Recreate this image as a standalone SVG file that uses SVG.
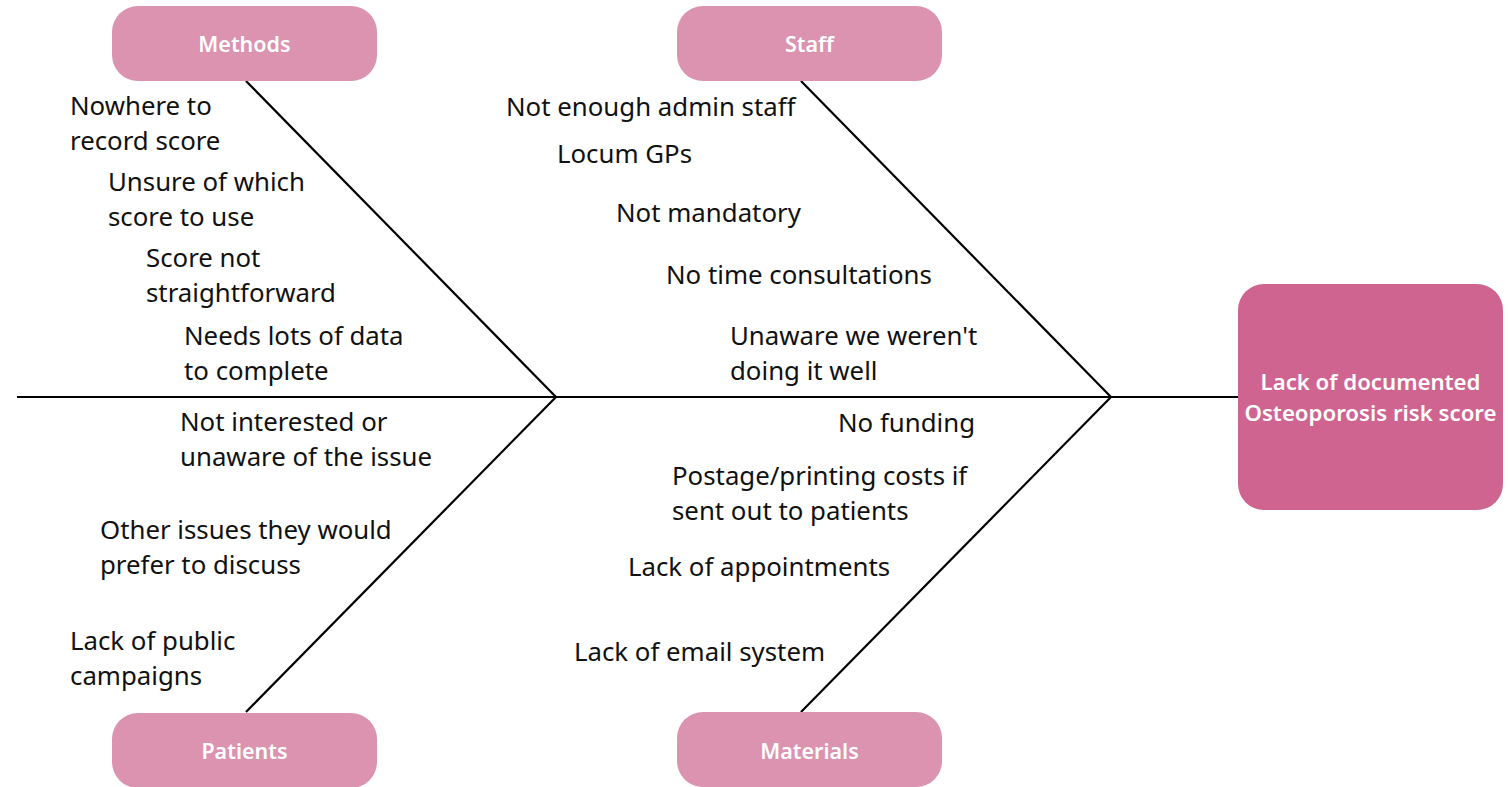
<svg xmlns="http://www.w3.org/2000/svg" width="1508" height="787" viewBox="0 0 1508 787">
<style>
.cat{fill:#DB93B0}
.eff{fill:#CF6490}
.ct{font-family:"Noto Sans","Open Sans",sans-serif;font-size:21.5px;font-weight:600;fill:#fff;text-anchor:middle}
.et{font-family:"Noto Sans","Open Sans",sans-serif;font-size:22.2px;font-weight:600;fill:#fff;text-anchor:middle}
.lb{font-family:"Noto Sans","Open Sans",sans-serif;font-size:25.8px;fill:#111}
.ln{stroke:#000;stroke-width:2.2;fill:none}
</style>
<rect width="1508" height="787" fill="#fff"/>
<g id="connectors">
<line class="ln" x1="17" y1="397" x2="1238" y2="397"/>
<line class="ln" x1="246" y1="81" x2="556" y2="397"/>
<line class="ln" x1="246" y1="712" x2="556" y2="397"/>
<line class="ln" x1="801" y1="81" x2="1111" y2="397"/>
<line class="ln" x1="801" y1="712" x2="1111" y2="397"/>
</g>
<g id="methods"><rect class="cat" x="112" y="6" width="265" height="75" rx="26"/><text class="ct" x="244.5" y="52">Methods</text></g>
<g id="staff"><rect class="cat" x="677" y="6" width="265" height="75" rx="26"/><text class="ct" x="809.5" y="52">Staff</text></g>
<g id="patients"><rect class="cat" x="112" y="713" width="265" height="75" rx="26"/><text class="ct" x="244.5" y="759">Patients</text></g>
<g id="materials"><rect class="cat" x="677" y="712" width="265" height="75" rx="26"/><text class="ct" x="809.5" y="759">Materials</text></g>
<g id="effect"><rect class="eff" x="1238" y="284" width="265" height="226" rx="26"/><text class="et" x="1370.5" y="390">Lack of documented</text><text class="et" x="1370.5" y="421">Osteoporosis risk score</text></g>
<g id="labels">
<text class="lb" x="70" y="115">Nowhere to</text><text class="lb" x="70" y="150">record score</text>
<text class="lb" x="108" y="191">Unsure of which</text><text class="lb" x="108" y="226">score to use</text>
<text class="lb" x="146" y="267">Score not</text><text class="lb" x="146" y="302">straightforward</text>
<text class="lb" x="184" y="345">Needs lots of data</text><text class="lb" x="184" y="380">to complete</text>
<text class="lb" x="180" y="431">Not interested or</text><text class="lb" x="180" y="466">unaware of the issue</text>
<text class="lb" x="100" y="539">Other issues they would</text><text class="lb" x="100" y="574">prefer to discuss</text>
<text class="lb" x="70" y="650">Lack of public</text><text class="lb" x="70" y="685">campaigns</text>
<text class="lb" x="506" y="116">Not enough admin staff</text>
<text class="lb" x="557" y="163">Locum GPs</text>
<text class="lb" x="616" y="222">Not mandatory</text>
<text class="lb" x="666" y="284">No time consultations</text>
<text class="lb" x="730" y="345">Unaware we weren't</text><text class="lb" x="730" y="380">doing it well</text>
<text class="lb" x="838" y="432">No funding</text>
<text class="lb" x="672" y="485">Postage/printing costs if</text><text class="lb" x="672" y="520">sent out to patients</text>
<text class="lb" x="628" y="576">Lack of appointments</text>
<text class="lb" x="574" y="661">Lack of email system</text>
</g>
</svg>
